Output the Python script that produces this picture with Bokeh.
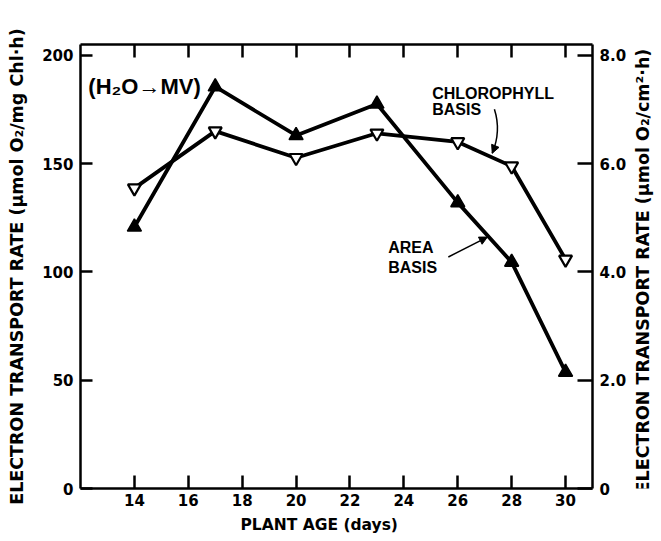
import math
from bokeh.plotting import figure
from bokeh.layouts import row
from bokeh.models import (Range1d, LinearAxis, FixedTicker, Label, Arrow, NormalHead, Title)
from bokeh.embed import file_html
from bokeh.resources import INLINE

# ---- data ----
plant_age = [14, 17, 20, 23, 26, 28, 30]
chl_basis = [138.7, 165.0, 152.7, 164.0, 160.0, 148.8, 105.8]   # umol O2 / mg Chl h
area_basis = [4.83, 7.42, 6.52, 7.10, 5.28, 4.18, 2.15]         # umol O2 / cm2 h
x_ticks = [14, 16, 18, 20, 22, 24, 26, 28, 30]
left_ticks = [0, 50, 100, 150, 200]
right_ticks = [0, 2, 4, 6, 8]
right_labels = {0: "0", 2: "2.0", 4: "4.0", 6: "6.0", 8: "8.0"}
x_title = "PLANT AGE (days)"
left_title = "ELECTRON TRANSPORT RATE (\u00b5mol O\u2082/mg Chl\u00b7h)"
right_title = "ELECTRON TRANSPORT RATE (\u00b5mol O\u2082/cm\u00b2\u00b7h)"

TICK_FONT = "DejaVu Sans"
LABEL_FONT = "DejaVu Sans"
ANN_FONT = "Liberation Sans"

p = figure(width=630, height=541, output_backend="svg", toolbar_location=None,
           x_range=Range1d(12, 31), y_range=Range1d(0, 205),
           min_border_left=80, min_border_right=38, min_border_top=44, min_border_bottom=53)
p.extra_y_ranges = {"area": Range1d(0, 8.2)}
p.outline_line_color = None
p.xgrid.visible = False
p.ygrid.visible = False
p.background_fill_color = "white"
p.border_fill_color = "white"

def style_axis(ax, tick_in=13):
    ax.axis_line_width = 2.5
    ax.axis_line_color = "black"
    ax.major_tick_line_width = 2.5
    ax.major_tick_line_color = "black"
    ax.major_tick_in = tick_in
    ax.major_tick_out = 0
    ax.minor_tick_line_color = None
    ax.major_label_text_font = TICK_FONT
    ax.major_label_text_font_style = "bold"
    ax.major_label_text_font_size = "15px"
    ax.major_label_text_color = "black"
    ax.axis_label_text_font = LABEL_FONT
    ax.axis_label_text_font_style = "bold"
    ax.axis_label_text_font_size = "17.5px"
    ax.axis_label_text_color = "black"

# bottom axis
xa = p.xaxis[0]
xa.ticker = FixedTicker(ticks=x_ticks)
style_axis(xa)
xa.major_label_standoff = 5

# bottom title, positioned like the reference
p.add_layout(Title(text=x_title, align="left", offset=160, standoff=10,
                   text_font=LABEL_FONT, text_font_style="bold",
                   text_font_size="15.5px", text_color="black"), "below")

# left axis
ya = p.yaxis[0]
ya.ticker = FixedTicker(ticks=left_ticks)
style_axis(ya, 12)
ya.axis_label = left_title
ya.major_label_standoff = 7
ya.axis_label_standoff = 12

# top axis (ticks only)
top = LinearAxis(ticker=FixedTicker(ticks=x_ticks),
                 major_label_overrides={t: "" for t in x_ticks})
style_axis(top)
top.major_label_standoff = 0
p.add_layout(top, "above")

# right axis
ra = LinearAxis(y_range_name="area", ticker=FixedTicker(ticks=right_ticks),
                major_label_overrides=right_labels)
style_axis(ra, 15)
ra.major_label_standoff = 7
p.add_layout(ra, "right")

# series
p.line(plant_age, chl_basis, line_width=3.8, line_color="black")
p.line(plant_age, area_basis, line_width=3.8, line_color="black", y_range_name="area")
p.scatter(plant_age, area_basis, marker="triangle", size=14, fill_color="black",
          line_color="black", line_width=1.5, y_range_name="area")
p.scatter(plant_age, chl_basis, marker="inverted_triangle", size=13, fill_color="white",
          line_color="black", line_width=2.2)

# annotations
def add_label(x, y, text, size, style="bold", font=ANN_FONT):
    p.add_layout(Label(x=x, y=y, text=text, text_font=font, text_font_size=size,
                       text_font_style=style, text_color="black",
                       text_baseline="alphabetic", text_align="left"))

add_label(12.29, 185.6, "(H\u2082O\u2192MV)", "22px")
add_label(25.05, 182.6, "CHLOROPHYLL", "16px")
add_label(25.05, 174.8, "BASIS", "16px")
add_label(23.42, 111.2, "AREA", "16px")
add_label(23.42, 102.0, "BASIS", "16px")

# curved pointer for chlorophyll basis
sx, sy = 27.36, 175.1
cx, cy = 27.62, 165.0
ex, ey = 27.28, 154.8
p.quadratic(x0=[sx], y0=[sy], x1=[ex], y1=[ey], cx=[cx], cy=[cy],
            line_color="black", line_width=1.5)
p.add_layout(Arrow(end=NormalHead(size=8, fill_color="black", line_color="black"),
                   x_start=ex + 0.12 * (cx - ex), y_start=ey + 0.12 * (cy - ey),
                   x_end=ex, y_end=ey, line_width=1.5, line_color="black"))

# straight pointer for area basis
p.add_layout(Arrow(end=NormalHead(size=8, fill_color="black", line_color="black"),
                   x_start=25.65, y_start=106.9, x_end=27.1, y_end=116.1,
                   line_width=1.5, line_color="black"))

# right-hand axis title (reads bottom to top, as in the reference)
q = figure(width=31, height=541, output_backend="svg", toolbar_location=None,
           x_range=Range1d(0, 31), y_range=Range1d(0, 541),
           x_axis_type=None, y_axis_type=None, min_border=0)
q.outline_line_color = None
q.background_fill_color = "white"
q.border_fill_color = "white"
q.add_layout(Label(x=12, y=265, text=right_title, angle=math.pi / 2,
                   text_font=LABEL_FONT, text_font_style="bold", text_font_size="17.5px",
                   text_align="center", text_baseline="middle", text_color="black"))

layout = row(p, q)
open("out.html", "w").write(file_html(layout, INLINE))
